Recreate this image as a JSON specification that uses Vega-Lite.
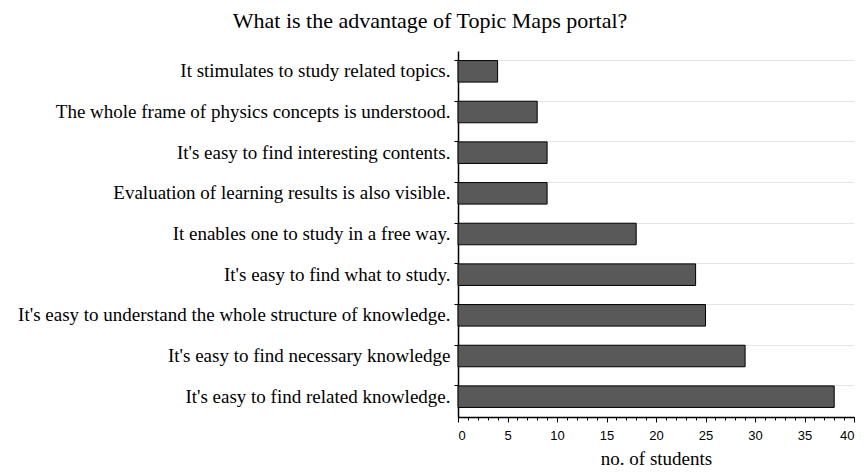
{
  "$schema": "https://vega.github.io/schema/vega-lite/v6.json",
  "autosize": "none",
  "width": 396,
  "height": 366,
  "padding": {"left": 458, "top": 51, "right": 10, "bottom": 58},
  "background": "white",
  "title": {
    "text": "What is the advantage of Topic Maps portal?",
    "font": "Liberation Serif",
    "fontSize": 22,
    "fontWeight": "normal",
    "color": "black",
    "anchor": "middle",
    "dx": -226,
    "offset": 18
  },
  "config": {
    "view": {"stroke": null},
    "font": "Liberation Serif"
  },
  "data": {
    "values": [
      {"reason": "It stimulates to study related topics.", "students": 4},
      {"reason": "The whole frame of physics concepts is understood.", "students": 8},
      {"reason": "It's easy to find interesting contents.", "students": 9},
      {"reason": "Evaluation of learning results is also visible.", "students": 9},
      {"reason": "It enables one to study in a free way.", "students": 18},
      {"reason": "It's easy to find what to study.", "students": 24},
      {"reason": "It's easy to understand the whole structure of knowledge.", "students": 25},
      {"reason": "It's easy to find necessary knowledge", "students": 29},
      {"reason": "It's easy to find related knowledge.", "students": 38}
    ]
  },
  "resolve": {"axis": {"x": "independent", "y": "independent"}},
  "layer": [
    {
      "mark": {"type": "bar", "opacity": 0},
      "encoding": {
        "x": {
          "field": "students",
          "type": "quantitative",
          "scale": {"domain": [0, 40], "nice": false},
          "axis": {
            "orient": "bottom",
            "title": null,
            "labels": false,
            "domain": false,
            "grid": false,
            "values": [0,1,2,3,4,5,6,7,8,9,10,11,12,13,14,15,16,17,18,19,20,21,22,23,24,25,26,27,28,29,30,31,32,33,34,35,36,37,38,39,40],
            "tickColor": "black",
            "tickSize": 3
          }
        },
        "y": {"field": "reason", "type": "nominal", "sort": null, "axis": null}
      }
    },
    {
      "mark": {"type": "bar", "fill": "#595959", "stroke": "black", "strokeWidth": 1},
      "encoding": {
        "y": {
          "field": "reason",
          "type": "nominal",
          "sort": null,
          "scale": {"paddingInner": 0.47, "paddingOuter": 0.235},
          "axis": {
            "orient": "left",
            "title": null,
            "labelFont": "Liberation Serif",
            "labelFontSize": 19,
            "labelColor": "black",
            "labelLimit": 500,
            "labelPadding": 4,
            "domainColor": "black",
            "domainWidth": 1.5,
            "tickColor": "black",
            "tickSize": 4,
            "bandPosition": 0,
            "grid": true,
            "gridColor": "#e4e4e4",
            "gridWidth": 1
          }
        },
        "x": {
          "field": "students",
          "type": "quantitative",
          "scale": {"domain": [0, 40], "nice": false},
          "axis": {
            "orient": "bottom",
            "title": "no. of students",
            "titleFont": "Liberation Serif",
            "titleFontSize": 19,
            "titleFontWeight": "normal",
            "titleColor": "black",
            "titlePadding": 7,
            "values": [0, 5, 10, 15, 20, 25, 30, 35, 40],
            "labelFont": "Liberation Sans",
            "labelFontSize": 13,
            "labelColor": "black",
            "labelPadding": 7,
            "domainColor": "black",
            "domainWidth": 1.5,
            "tickColor": "black",
            "tickSize": 5,
            "grid": false
          }
        }
      }
    }
  ]
}
